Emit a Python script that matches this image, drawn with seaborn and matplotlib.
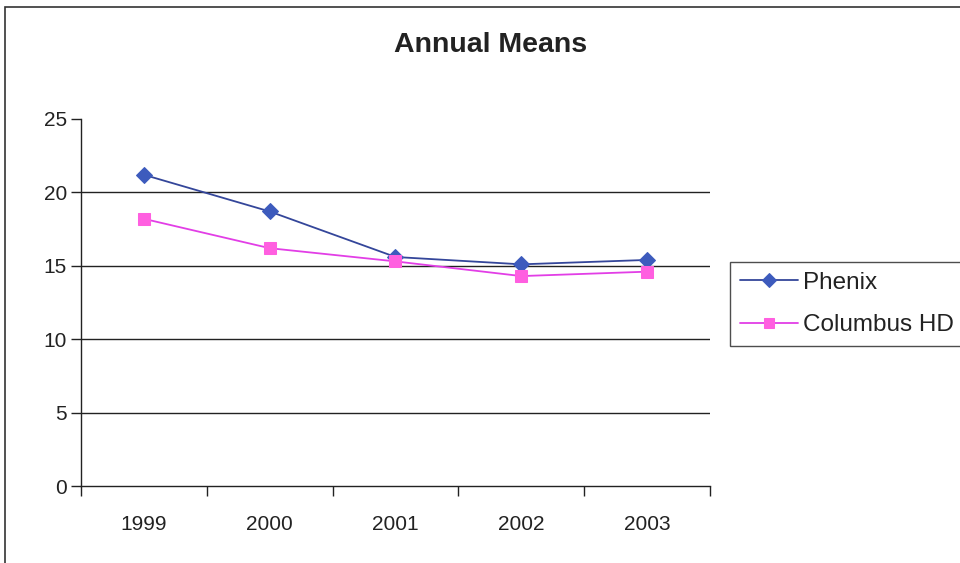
import matplotlib
matplotlib.use("Agg")
import matplotlib.pyplot as plt
import seaborn as sns
import pandas as pd
from matplotlib.patches import Rectangle
from matplotlib.ticker import FixedLocator

years = ["1999", "2000", "2001", "2002", "2003"]
phenix = [21.2, 18.7, 15.6, 15.1, 15.4]
columbus = [18.2, 16.2, 15.3, 14.3, 14.6]
series_names = ["Phenix", "Columbus HD"]
title = "Annual Means"

df = pd.DataFrame({
    "year": years * 2,
    "value": phenix + columbus,
    "series": [series_names[0]] * len(years) + [series_names[1]] * len(years),
})

sns.set_theme(style="white")
plt.rcParams["font.family"] = ["Liberation Sans", "DejaVu Sans"]

fig = plt.figure(figsize=(9.6, 5.63), dpi=100)
ax = fig.add_axes([81 / 960, 1 - 486 / 563, (710 - 81) / 960, (486 - 119) / 563])

line_colors = {"Phenix": "#34469a", "Columbus HD": "#e23ee6"}
marker_colors = {"Phenix": "#3d5bbd", "Columbus HD": "#ff5fe0"}
sns.lineplot(data=df, x="year", y="value", hue="series", style="series",
             markers={"Phenix": "D", "Columbus HD": "s"}, dashes=False,
             palette=line_colors, linewidth=1.3, markersize=8, ax=ax, legend=False)

for line, name in zip(ax.lines, series_names):
    line.set_markerfacecolor(marker_colors[name])
    line.set_markeredgecolor(marker_colors[name])
    line.set_label(name)

ax.set_xlim(-0.5, len(years) - 0.5)
ax.set_ylim(0, 25)
ax.set_yticks([0, 5, 10, 15, 20, 25])
for y in [5, 10, 15, 20]:
    ax.axhline(y, color="#222222", linewidth=1.0, zorder=0)

ax.xaxis.set_minor_locator(FixedLocator([i - 0.5 for i in range(len(years) + 1)]))
ax.tick_params(axis="x", which="major", length=0, pad=21, labelsize=15, colors="#222222")
ax.tick_params(axis="x", which="minor", length=7, width=1, color="#222222", direction="out", bottom=True)
ax.tick_params(axis="y", which="major", length=7, width=1, color="#222222", direction="out",
               left=True, labelsize=15, pad=3, labelcolor="#222222")
ax.set_xlabel("")
ax.set_ylabel("")

for s in ["top", "right"]:
    ax.spines[s].set_visible(False)
for s in ["left", "bottom"]:
    ax.spines[s].set_color("#222222")
    ax.spines[s].set_linewidth(1.0)

fig.text(491 / 960, 1 - 45 / 563, title, ha="center", va="center",
         fontsize=20.5, fontweight="bold", color="#222222")

leg = fig.legend(handles=ax.lines[:2], labels=series_names,
                 loc="upper left", bbox_to_anchor=(730 / 960, 1 - 262 / 563),
                 frameon=True, fancybox=False, fontsize=17.5, handlelength=2.4,
                 borderpad=0.4, labelspacing=0.85, handletextpad=0.2, borderaxespad=0,
                 markerscale=0.85)
leg.get_frame().set_edgecolor("#222222")
leg.get_frame().set_linewidth(1.0)
for t in leg.get_texts():
    t.set_color("#222222")

fig.patches.append(Rectangle((5 / 960, -0.05), 1.1, 1 - 7 / 563 + 0.05,
                             transform=fig.transFigure, fill=False,
                             edgecolor="#333333", linewidth=1.2))

fig.savefig("out.png", dpi=100)
